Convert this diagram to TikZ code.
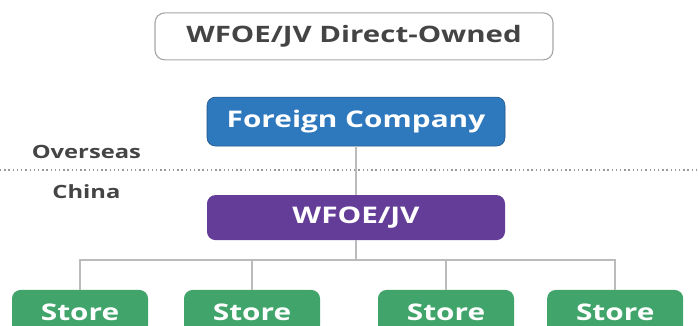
\documentclass[tikz,border=0pt]{standalone}
\usepackage{fontspec}
\setmainfont[FakeStretch=1.3]{Open Sans}
\usetikzlibrary{positioning}
\definecolor{fcblue}{HTML}{2E78BE}
\definecolor{jvpurple}{HTML}{633D97}
\definecolor{storegreen}{HTML}{41A56B}
\definecolor{txtgray}{HTML}{444444}
\definecolor{linegray}{HTML}{BBBBBB}
\tikzset{font=\bfseries}

\begin{document}
\begin{tikzpicture}[box/.style={rounded corners=6pt,text=white,inner sep=0pt,font=\fontsize{16.3}{20}\selectfont\bfseries},
      lbl/.style={text=txtgray,font=\fontsize{13}{15}\selectfont\bfseries},
      link/.style={draw=linegray,line width=1.1pt}]
      \useasboundingbox (0,0) rectangle (17.45,8.15);

      \node[draw=gray!70,fill=white,rounded corners=7pt,line width=0.8pt,minimum width={9.95cm},minimum height={1.175cm},text=txtgray,font=\fontsize{16.1}{20}\selectfont\bfseries] (T) at (8.85,7.24) {WFOE/JV Direct-Owned};

      \node[box,fill=fcblue,draw=fcblue!70!black,minimum width={7.45cm},minimum height={1.225cm}] (FC) at (8.9,5.11) {Foreign Company};
      \node[box,fill=jvpurple,minimum width={7.45cm},minimum height={1.125cm}] (WJ) at (8.9,2.71) {WFOE/JV};

      \node[lbl] (OV) at (2.16,4.35) {Overseas};
      \node[lbl] (CN) at (2.16,3.35) {China};
      \coordinate (DL) at (0,3.9);
      \coordinate (DR) at (17.45,3.9);
      \draw[gray!80,dotted,line width=1pt] (DL) -- (DR);

      \node[box,fill=storegreen,minimum width={3.4cm},minimum height={1.1cm}] (S1) at (2.0,0.35) {Store};
      \node[box,fill=storegreen,minimum width={3.4cm},minimum height={1.1cm}] (S2) at (6.3,0.35) {Store};
      \node[box,fill=storegreen,minimum width={3.4cm},minimum height={1.1cm}] (S3) at (11.15,0.35) {Store};
      \node[box,fill=storegreen,minimum width={3.4cm},minimum height={1.1cm}] (S4) at (15.38,0.35) {Store};

      \coordinate (bus) at (8.9,1.65);
      \path[link] (FC.south) edge (WJ.north);
      \path[link] (WJ.south) edge (bus);
      \draw[link] (bus) -| (S1.north);
      \draw[link] (bus) -| (S2.north);
      \draw[link] (bus) -| (S3.north);
      \draw[link] (bus) -| (S4.north);
  \end{tikzpicture}
\end{document}
